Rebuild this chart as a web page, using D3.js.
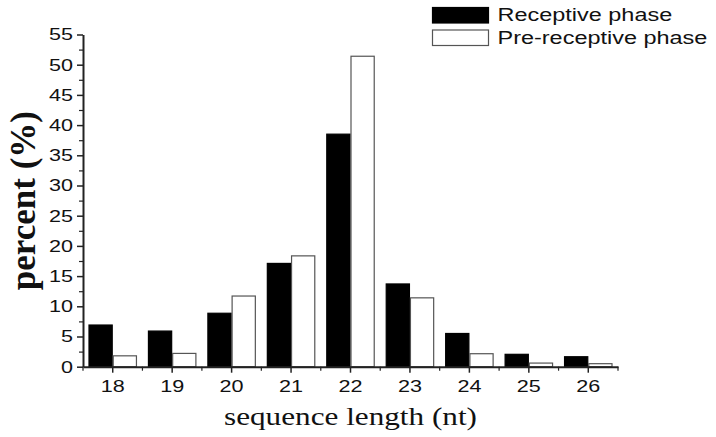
<!DOCTYPE html>
<html>
<head>
<meta charset="utf-8">
<script src="https://cdn.jsdelivr.net/npm/d3@7"></script>
<style>
  html, body { margin: 0; padding: 0; background: #fff; }
  svg { display: block; }
</style>
</head>
<body>
<svg id="chart" width="716" height="437"></svg>
<script>
const categories = ["18", "19", "20", "21", "22", "23", "24", "25", "26"];
const seriesNames = ["Receptive phase", "Pre-receptive phase"];
const receptive = [6.9, 5.9, 8.85, 17.1, 38.5, 13.7, 5.5, 2.05, 1.65];
const preReceptive = [1.8, 2.2, 11.7, 18.35, 51.4, 11.4, 2.15, 0.6, 0.5];
const yTicks = [0, 5, 10, 15, 20, 25, 30, 35, 40, 45, 50, 55];
const yMinorTicks = [2.5, 7.5, 12.5, 17.5, 22.5, 27.5, 32.5, 37.5, 42.5, 47.5, 52.5];
const xLabel = "sequence length (nt)";
const yLabel = "percent (%)";

const svg = d3.select("#chart");
const margin = { left: 83, right: 98, top: 34.5, bottom: 70 };
const W = 716, H = 437;

const x = d3.scaleBand().domain(categories).range([margin.left, W - margin.right]).padding(0);
const x1 = d3.scaleBand().domain(seriesNames).range([0, x.bandwidth()]).paddingInner(0).paddingOuter(0.227);
const y = d3.scaleLinear().domain([0, 55]).range([H - margin.bottom - 0.3, margin.top]);

const color = d3.scaleOrdinal().domain(seriesNames).range(["#000", "#fff"]);
const stroke = d3.scaleOrdinal().domain(seriesNames).range(["#000", "#555"]);

function stretch(sel, f) {
  sel.each(function () {
    const len = this.getComputedTextLength();
    d3.select(this).attr("textLength", len * f).attr("lengthAdjust", "spacingAndGlyphs");
  });
}

const data = categories.map((c, i) => ({ cat: c, values: [
  { key: seriesNames[0], v: receptive[i] },
  { key: seriesNames[1], v: preReceptive[i] }
]}));

// bars
const g = svg.append("g");
g.selectAll("g.grp").data(data).join("g")
  .attr("class", "grp")
  .attr("transform", d => `translate(${x(d.cat)},0)`)
  .selectAll("rect").data(d => d.values).join("rect")
  .attr("x", d => x1(d.key) + 0.5)
  .attr("y", d => y(d.v))
  .attr("width", x1.bandwidth() - 1)
  .attr("height", d => y(0) - y(d.v))
  .attr("fill", d => color(d.key))
  .attr("stroke", d => stroke(d.key))
  .attr("stroke-width", 1.2);

// y axis
const yAxis = svg.append("g").attr("transform", `translate(${margin.left},0)`)
  .call(d3.axisLeft(y).tickValues(yTicks).tickSize(6).tickSizeOuter(0).tickPadding(4));
yAxis.select(".domain").attr("stroke", "#222").attr("stroke-width", 2);
yAxis.selectAll(".tick line").attr("stroke", "#222").attr("stroke-width", 1.5);
yAxis.selectAll("text").attr("font-family", "Liberation Sans, Arial, sans-serif")
  .attr("font-size", 17).attr("fill", "#111");
stretch(yAxis.selectAll("text"), 1.27);
const yMinor = svg.append("g").attr("transform", `translate(${margin.left},0)`)
  .call(d3.axisLeft(y).tickValues(yMinorTicks).tickSize(4).tickFormat(""));
yMinor.select(".domain").remove();
yMinor.selectAll(".tick line").attr("stroke", "#222").attr("stroke-width", 1.2);

// x axis
const xAxis = svg.append("g").attr("transform", `translate(0,${y(0)})`)
  .call(d3.axisBottom(x).tickSize(6).tickSizeOuter(0).tickPadding(7));
xAxis.select(".domain").attr("stroke", "#222").attr("stroke-width", 2);
xAxis.selectAll(".tick line").attr("stroke", "#222").attr("stroke-width", 1.5);
xAxis.selectAll("text").attr("font-family", "Liberation Sans, Arial, sans-serif")
  .attr("font-size", 17).attr("fill", "#111");
stretch(xAxis.selectAll("text"), 1.27);
// minor x ticks at band boundaries
const boundaries = categories.map(c => x(c)).concat([x(categories[categories.length - 1]) + x.bandwidth()]);
svg.append("g").selectAll("line").data(boundaries).join("line")
  .attr("x1", d => d).attr("x2", d => d)
  .attr("y1", y(0)).attr("y2", y(0) + 4)
  .attr("stroke", "#222").attr("stroke-width", 1.2);

// axis labels
const xl = svg.append("text")
  .attr("x", (x.range()[0] + x.range()[1]) / 2 + 0)
  .attr("y", 425)
  .attr("text-anchor", "middle")
  .attr("font-family", "Liberation Serif, Times New Roman, serif")
  .attr("font-size", 26)
  .attr("fill", "#111")
  .text(xLabel);
stretch(xl, 1.2);

svg.append("text")
  .attr("transform", `translate(35,${(y.range()[0] + y.range()[1]) / 2}) rotate(-90)`)
  .attr("text-anchor", "middle")
  .attr("font-family", "Liberation Serif, Times New Roman, serif")
  .attr("font-weight", "bold")
  .attr("font-size", 35)
  .attr("fill", "#111")
  .text(yLabel);

// legend
const legend = svg.append("g").attr("transform", "translate(432,7)");
const li = legend.selectAll("g").data(seriesNames).join("g")
  .attr("transform", (d, i) => `translate(0,${i * 22.5})`);
li.append("rect")
  .attr("x", 0.5).attr("y", 0.5).attr("width", 56).attr("height", 15.5)
  .attr("fill", d => color(d)).attr("stroke", d => stroke(d)).attr("stroke-width", 1.2);
const lt = li.append("text")
  .attr("x", 65.5).attr("y", 14)
  .attr("font-family", "Liberation Sans, Arial, sans-serif")
  .attr("font-size", 17.5)
  .attr("fill", "#111")
  .text(d => d);
stretch(lt, 1.34);
</script>
</body>
</html>
